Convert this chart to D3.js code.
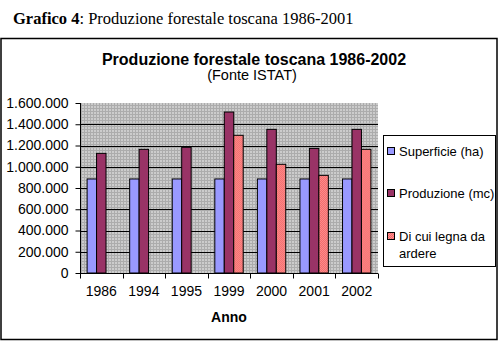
<!DOCTYPE html>
<html>
<head>
<meta charset="utf-8">
<script src="https://cdn.jsdelivr.net/npm/d3@7"></script>
<style>
  body { margin: 0; background: #fff; }
  svg { display: block; }
</style>
</head>
<body>
<div id="chart"></div>
<script>
const years = ['1986', '1994', '1995', '1999', '2000', '2001', '2002'];
const seriesNames = ['Superficie (ha)', 'Produzione (mc)', 'Di cui legna da ardere'];
const superficie = [885000, 885000, 885000, 885000, 885000, 885000, 885000];
const produzione = [1126000, 1164000, 1183000, 1515000, 1352000, 1173000, 1352000];
const legna = [0, 0, 0, 1296000, 1023000, 919000, 1164000];
const yTicks = [0, 200000, 400000, 600000, 800000, 1000000, 1200000, 1400000, 1600000];

const colors = ['#9999ff', '#993366', 'url(#legnaPat)'];

const width = 500, height = 352;
const plot = { left: 80, right: 378, top: 103, bottom: 273 };

const svg = d3.select('#chart')
  .append('svg')
  .attr('width', width)
  .attr('height', height);

const defs = svg.append('defs');

// dotted gray plot background
const bgPat = defs.append('pattern')
  .attr('id', 'bgPat')
  .attr('width', 3)
  .attr('height', 3)
  .attr('patternUnits', 'userSpaceOnUse');
bgPat.append('rect').attr('width', 3).attr('height', 3).attr('fill', '#cccccc');
bgPat.append('rect').attr('width', 1).attr('height', 3).attr('fill', '#acacac');
bgPat.append('rect').attr('width', 3).attr('height', 1).attr('fill', '#acacac');

const lPat = defs.append('pattern')
  .attr('id', 'legnaPat')
  .attr('width', 2)
  .attr('height', 2)
  .attr('patternUnits', 'userSpaceOnUse');
lPat.append('rect').attr('width', 2).attr('height', 2).attr('fill', '#ff9090');
lPat.append('rect').attr('width', 1).attr('height', 1).attr('fill', '#f06868');
lPat.append('rect').attr('x', 1).attr('y', 1).attr('width', 1).attr('height', 1).attr('fill', '#f06868');

// caption above the frame
svg.append('text')
  .attr('x', 13)
  .attr('y', 24)
  .attr('font-family', 'Liberation Serif, Times New Roman, serif')
  .attr('font-size', 16.5)
  .attr('fill', '#000')
  .call(t => {
    t.append('tspan').attr('font-weight', 'bold').text('Grafico 4');
    t.append('tspan').text(': Produzione forestale toscana 1986-2001');
  });

// outer frame
svg.append('rect')
  .attr('x', 1)
  .attr('y', 38.5)
  .attr('width', 496)
  .attr('height', 301)
  .attr('fill', '#fff')
  .attr('stroke', '#000')
  .attr('stroke-width', 1.5);

const font = 'Liberation Sans, Arial, sans-serif';

svg.append('text')
  .attr('x', 254)
  .attr('y', 65)
  .attr('text-anchor', 'middle')
  .attr('font-family', font)
  .attr('font-size', 16)
  .attr('font-weight', 'bold')
  .text('Produzione forestale toscana 1986-2002');

svg.append('text')
  .attr('x', 252)
  .attr('y', 80)
  .attr('text-anchor', 'middle')
  .attr('font-family', font)
  .attr('font-size', 14.5)
  .text('(Fonte ISTAT)');

const x0 = d3.scaleBand()
  .domain(years)
  .range([plot.left, plot.right]);

const x1 = d3.scaleBand()
  .domain(d3.range(3))
  .range([0, x0.bandwidth()])
  .paddingInner(0)
  .paddingOuter(0.75);

const y = d3.scaleLinear()
  .domain([0, 1600000])
  .range([plot.bottom, plot.top]);

svg.append('rect')
  .attr('x', plot.left)
  .attr('y', plot.top)
  .attr('width', plot.right - plot.left)
  .attr('height', plot.bottom - plot.top)
  .attr('fill', 'url(#bgPat)');

svg.append('g')
  .selectAll('line')
  .data(yTicks.filter(d => d > 0 && d < 1600000))
  .join('line')
  .attr('x1', plot.left)
  .attr('x2', plot.right)
  .attr('y1', d => Math.round(y(d)) + 0.5)
  .attr('y2', d => Math.round(y(d)) + 0.5)
  .attr('stroke', '#000');

const fmt = d => d3.format(',')(d).replace(/,/g, '.');

const yAxis = svg.append('g')
  .attr('transform', `translate(${plot.left + 0.5},0)`)
  .call(d3.axisLeft(y).tickValues(yTicks).tickSize(5).tickPadding(7).tickFormat(fmt));
yAxis.selectAll('text').attr('font-family', font).attr('font-size', 14).attr('fill', '#000');
yAxis.selectAll('line, path').attr('stroke', '#000');
yAxis.select('.domain').attr('d', `M0,${plot.top}V${plot.bottom}`);

const seriesData = [superficie, produzione, legna];

const groups = svg.append('g')
  .selectAll('g')
  .data(years)
  .join('g')
  .attr('transform', d => `translate(${x0(d)},0)`);

groups.selectAll('rect')
  .data((d, i) => seriesData.map((s, k) => ({ k, v: s[i] })).filter(e => e.v > 0))
  .join('rect')
  .attr('x', d => x1(d.k))
  .attr('width', x1.bandwidth())
  .attr('y', d => y(d.v))
  .attr('height', d => y(0) - y(d.v))
  .attr('fill', d => colors[d.k])
  .attr('stroke', '#000')
  .attr('stroke-width', 1);

const xAxis = svg.append('g')
  .attr('transform', `translate(0,${plot.bottom + 0.5})`)
  .call(d3.axisBottom(x0).tickSize(0).tickPadding(13));
xAxis.selectAll('text').attr('font-family', font).attr('font-size', 14).attr('fill', '#000');
xAxis.select('.domain').attr('stroke', '#000').attr('d', `M${plot.left},0H${plot.right}`);

xAxis.append('g')
  .selectAll('line')
  .data(years.map(d => x0(d)).concat([plot.right]))
  .join('line')
  .attr('x1', d => Math.round(d) + 0.5)
  .attr('x2', d => Math.round(d) + 0.5)
  .attr('y1', 0)
  .attr('y2', 5)
  .attr('stroke', '#000');

svg.append('text')
  .attr('x', (plot.left + plot.right) / 2)
  .attr('y', 322)
  .attr('text-anchor', 'middle')
  .attr('font-family', font)
  .attr('font-size', 14)
  .attr('font-weight', 'bold')
  .text('Anno');

// legend
const legend = svg.append('g');
legend.append('rect')
  .attr('x', 383.5)
  .attr('y', 135.5)
  .attr('width', 112)
  .attr('height', 131)
  .attr('fill', '#fff')
  .attr('stroke', '#000');

const legendRows = [151, 193, 236];
const item = legend.selectAll('g.item')
  .data(seriesNames)
  .join('g')
  .attr('class', 'item')
  .attr('transform', (d, i) => `translate(387,${legendRows[i]})`);

item.append('rect')
  .attr('x', 0.5)
  .attr('y', -3.5)
  .attr('width', 7)
  .attr('height', 7)
  .attr('fill', (d, i) => colors[i])
  .attr('stroke', '#000');

item.append('text')
  .attr('x', 12)
  .attr('y', 5)
  .attr('font-family', font)
  .attr('font-size', 13)
  .attr('textLength', null)
  .each(function (d) {
    const t = d3.select(this);
    if (d === 'Di cui legna da ardere') {
      t.append('tspan').attr('x', 12).text('Di cui legna da');
      t.append('tspan').attr('x', 12).attr('dy', 17).text('ardere');
    } else {
      t.text(d);
    }
  });
</script>
</body>
</html>
